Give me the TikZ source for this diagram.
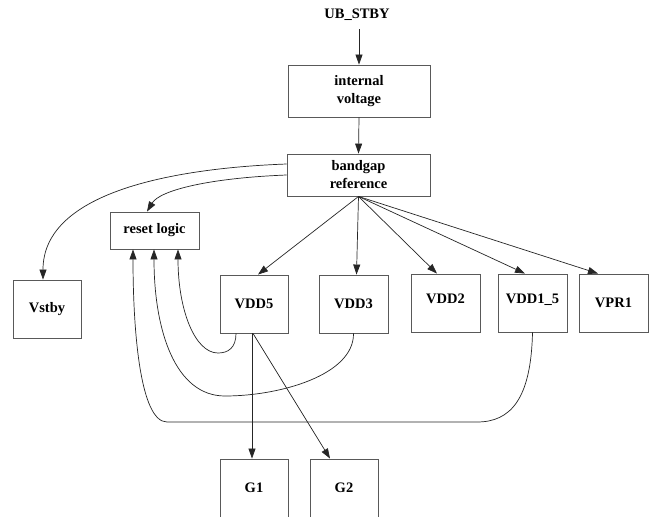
\documentclass[tikz,border=0pt]{standalone}
\usepackage{fontspec}
\setmainfont{Liberation Serif}
\usetikzlibrary{arrows.meta,calc}
\begin{document}
\begin{tikzpicture}[x=1pt,y=-1pt,
  box/.style={draw=black!65,line width=0.9pt,rectangle,inner sep=0pt,align=center,
    font=\fontsize{14.5}{18}\selectfont\bfseries},
  lbl/.style={inner sep=0pt,font=\fontsize{14.5}{18}\selectfont\bfseries},
  conn/.style={draw=black!85,line width=0.7pt,-{Triangle[length=10pt,width=7pt]}}]
\useasboundingbox (0,0) rectangle (655,516);
\clip (0,0) rectangle (655,516);
\fill[white] (0,0) rectangle (655,516);
\node[lbl] (ub) at (357,15) {UB\_STBY};
\node[box,minimum width=142,minimum height=52] (iv) at (359,91) {internal\\voltage};
\node[box,minimum width=143,minimum height=42] (bg) at (358.5,175) {bandgap\\reference};
\node[box,minimum width=89,minimum height=37] (rl) at (154.5,230.5) {reset logic};
\node[box,minimum width=68,minimum height=58] (vs) at (47,309) {Vstby};
\node[box,minimum width=68,minimum height=58] (vdd5) at (254,304) {VDD5};
\node[box,minimum width=69,minimum height=58] (vdd3) at (353.5,304) {VDD3};
\node[box,minimum width=69,minimum height=58,text depth=8pt] (vdd2) at (445.5,303) {VDD2};
\node[box,minimum width=69,minimum height=58,text depth=8pt] (vdd15) at (532.5,303) {VDD1\_5};
\node[box,minimum width=69,minimum height=58] (vpr1) at (613.5,303) {VPR1};
\node[box,minimum width=68,minimum height=58] (g1) at (254,488) {G1};
\node[box,minimum width=68,minimum height=58] (g2) at (344,488) {G2};
% main chain
\draw[conn] ($(ub.south)+(2,8)$) -- (iv.north);
\draw[conn] (iv.south) -- (bg.north);
% fan-out from bandgap
\draw[conn] (bg.south) -- ($(vdd5.north)+(4,0)$);
\draw[conn] (bg.south) -- ($(vdd3.north)+(3,0)$);
\draw[conn] (bg.south) -- ($(vdd2.north)+(-8.5,0)$);
\draw[conn] (bg.south) -- ($(vdd15.north)+(-7.5,0)$);
\draw[conn] (bg.south) -- ($(vpr1.north)+(-15.5,0)$);
% left curves
\draw[conn] ($(bg.west)+(0,-11)$) .. controls (180,168) and (43,190) .. ($(vs.north)+(-4,0)$);
\draw[conn] (bg.west) .. controls (210,178) and (160,190) .. ($(rl.north)+(-7.5,0)$);
% feedback loops into reset logic
\draw[conn] ($(vdd5.south)+(-18,0)$) .. controls (236,348) and (228,353) .. (218,353)
  .. controls (195,353) and (178,310) .. ($(rl.south)+(23.5,0)$);
\draw[conn] (vdd3.south) .. controls (354,375) and (280,396) .. (225,396)
  .. controls (175,396) and (154,330) .. ($(rl.south)+(-0.5,0)$);
\draw[conn] (vdd15.south) .. controls (531,400) and (510,422) .. (477,422) -- (167,422)
  .. controls (140,422) and (133,330) .. ($(rl.south)+(-21.5,0)$);
% VDD5 to G1, G2
\draw[conn] ($(vdd5.south)+(-2,0)$) -- ($(g1.north)+(-2,0)$);
\draw[conn] ($(vdd5.south)+(-1,0)$) -- ($(g2.north)+(-14,0)$);
\end{tikzpicture}
\end{document}
